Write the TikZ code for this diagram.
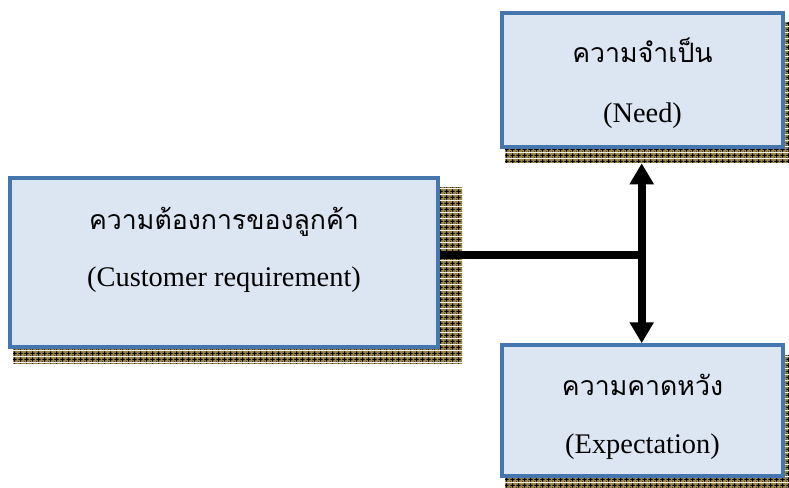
\documentclass[tikz,border=0pt]{standalone}
\usepackage{fontspec}
\setmainfont{Liberation Serif}
\newfontfamily\thaifont[Script=Thai]{Loma}
\usetikzlibrary{arrows.meta,fit,patterns}

\definecolor{boxfill}{HTML}{DCE6F2}
\definecolor{boxline}{HTML}{4676AE}
\definecolor{shadowgold}{HTML}{9A8444}

% Gold tile with small black crosses, used for the drop shadows
\pgfdeclarepatterninherentlycolored{goldcross}
  {\pgfpointorigin}{\pgfqpoint{4.5pt}{4.5pt}}{\pgfqpoint{4.5pt}{4.5pt}}
  {%
    \pgfsetfillcolor{shadowgold}%
    \pgfpathrectangle{\pgfpointorigin}{\pgfqpoint{4.5pt}{4.5pt}}%
    \pgfusepath{fill}%
    \pgfsetfillcolor{black}%
    \pgfpathrectangle{\pgfqpoint{1.75pt}{0.4pt}}{\pgfqpoint{1pt}{3.7pt}}%
    \pgfpathrectangle{\pgfqpoint{0.4pt}{1.75pt}}{\pgfqpoint{3.7pt}{1pt}}%
    \pgfusepath{fill}%
    \pgfsetfillcolor{black!75}%
    \pgfpathrectangle{\pgfqpoint{0pt}{0pt}}{\pgfqpoint{0.7pt}{0.7pt}}%
    \pgfusepath{fill}%
  }

\tikzset{
  shadowbox/.style={pattern=goldcross, draw=none, inner sep=0pt},
  infobox/.style={fill=boxfill, draw=boxline, line width=2.6pt, inner sep=0pt},
  thaitext/.style={font=\thaifont\fontsize{20}{24}\selectfont, anchor=base},
  engtext/.style={font=\fontsize{21.3}{24}\selectfont, anchor=base},
  link/.style={line width=6pt, black},
  twoway/.style={line width=6pt, black,
    {Triangle[width=17.25pt,length=15.75pt]}-{Triangle[width=17.25pt,length=15.75pt]}},
}

\begin{document}
\begin{tikzpicture}[x=0.75pt, y=-0.75pt]
  \useasboundingbox (0,0) rectangle (789,488);

  % drop shadows
  \node[shadowbox, fit={(13,188) (462,363)}] (leftshadow) {};
  \node[shadowbox, fit={(505,23) (789,163)}] (needshadow) {};
  \node[shadowbox, fit={(505,355) (789,488)}] (expshadow) {};

  % boxes
  \node[infobox, fit={(10,178) (438,347)}] (cust) {};
  \node[infobox, fit={(502,13) (783,147)}] (need) {};
  \node[infobox, fit={(502,345) (783,476)}] (expect) {};

  % labels
  \node[thaitext] (custth) at (224,230) {ความต้องการของลูกค้า};
  \node[engtext] (custen) at (224,287) {(Customer requirement)};
  \node[thaitext] (needth) at (642.5,63) {ความจำเป็น};
  \node[engtext] (needen) at (642.5,123) {(Need)};
  \node[thaitext] (expth) at (642.5,395) {ความคาดหวัง};
  \node[engtext] (expen) at (642.5,453) {(Expectation)};

  % connectors
  \coordinate (junction) at (646,255);
  \coordinate (spine) at (641.7,255);
  \draw[link] (cust.east |- junction) -- (junction);
  \draw[twoway] (spine |- needshadow.south) -- (spine |- expect.north);
\end{tikzpicture}
\end{document}
